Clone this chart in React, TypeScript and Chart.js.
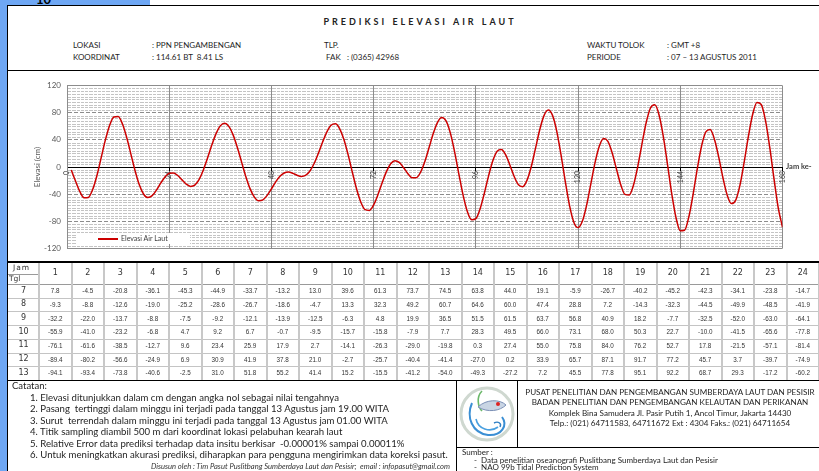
import React, { useEffect, useRef } from 'react';
import { Chart, registerables } from 'chart.js';

Chart.register(...registerables);

// ---------------- DATA ----------------
const hourLabels = ['1','2','3','4','5','6','7','8','9','10','11','12','13','14','15','16','17','18','19','20','21','22','23','24'];
const dayLabels = ['7', '8', '9', '10', '11', '12', '13'];

const day07 = [7.8, -4.5, -20.8, -36.1, -45.3, -44.9, -33.7, -13.2, 13.0, 39.6, 61.3, 73.7, 74.5, 63.8, 44.0, 19.1, -5.9, -26.7, -40.2, -45.2, -42.3, -34.1, -23.8, -14.7];
const day08 = [-9.3, -8.8, -12.6, -19.0, -25.2, -28.6, -26.7, -18.6, -4.7, 13.3, 32.3, 49.2, 60.7, 64.6, 60.0, 47.4, 28.8, 7.2, -14.3, -32.3, -44.5, -49.9, -48.5, -41.9];
const day09 = [-32.2, -22.0, -13.7, -8.8, -7.5, -9.2, -12.1, -13.9, -12.5, -6.3, 4.8, 19.9, 36.5, 51.5, 61.5, 63.7, 56.8, 40.9, 18.2, -7.7, -32.5, -52.0, -63.0, -64.1];
const day10 = [-55.9, -41.0, -23.2, -6.8, 4.7, 9.2, 6.7, -0.7, -9.5, -15.7, -15.8, -7.9, 7.7, 28.3, 49.5, 66.0, 73.1, 68.0, 50.3, 22.7, -10.0, -41.5, -65.6, -77.8];
const day11 = [-76.1, -61.6, -38.5, -12.7, 9.6, 23.4, 25.9, 17.9, 2.7, -14.1, -26.3, -29.0, -19.8, 0.3, 27.4, 55.0, 75.8, 84.0, 76.2, 52.7, 17.8, -21.5, -57.1, -81.4];
const day12 = [-89.4, -80.2, -56.6, -24.9, 6.9, 30.9, 41.9, 37.8, 21.0, -2.7, -25.7, -40.4, -41.4, -27.0, 0.2, 33.9, 65.7, 87.1, 91.7, 77.2, 45.7, 3.7, -39.7, -74.9];
const day13 = [-94.1, -93.4, -73.8, -40.6, -2.5, 31.0, 51.8, 55.2, 41.4, 15.2, -15.5, -41.2, -54.0, -49.3, -27.2, 7.2, 45.5, 77.8, 95.1, 92.2, 68.7, 29.3, -17.2, -60.2];
// value plotted at hour 168 (first hour of the following day, shown on the chart only)
const nextDayFirstValue = [-88.9];

const tableRows = [day07, day08, day09, day10, day11, day12, day13];

const yMin = -120;
const yMax = 120;
const yStep = 40;
const xMin = 0;
const xMax = 168;
const xStep = 24;

const seriesName = 'Elevasi Air Laut';

// -------------- STYLE ------------------
const FONT = 'Lato, "Open Sans", sans-serif';
const TFONT = '"DejaVu Sans", Verdana, sans-serif';
const VFONT = '"Liberation Sans", Arial, sans-serif';
const RED = '#cc0000';

const minorGrid = {
  id: 'minorGrid',
  beforeDraw(chart: any) {
    const { ctx, chartArea, scales } = chart;
    const { left, right, top, bottom } = chartArea;
    const xs = scales.x;
    const ys = scales.y;
    ctx.save();
    ctx.fillStyle = '#ffffff';
    ctx.fillRect(left, top, right - left, bottom - top);
    ctx.lineWidth = 1;
    ctx.strokeStyle = '#c4c4c4';
    for (let v = yMin + 4; v < yMax; v += 4) {
      if (v % yStep === 0) continue;
      const py = Math.round(ys.getPixelForValue(v)) + 0.5;
      ctx.beginPath();
      ctx.moveTo(left, py);
      ctx.lineTo(right, py);
      ctx.stroke();
    }
    ctx.strokeStyle = '#ffffff';
    for (let h = xMin + 1; h < xMax; h += 1) {
      if (h % xStep === 0) continue;
      const px = Math.round(xs.getPixelForValue(h)) + 0.5;
      ctx.beginPath();
      ctx.moveTo(px, top);
      ctx.lineTo(px, bottom);
      ctx.stroke();
    }
    ctx.restore();
  },
};

function TideChart() {
  const ref = useRef<HTMLCanvasElement | null>(null);
  useEffect(() => {
    if (!ref.current) return;
    const flat = tableRows.flat().concat(nextDayFirstValue);
    const points = flat.map((v, i) => ({ x: i, y: v })).slice(1);
    const chart = new Chart(ref.current, {
      type: 'line',
      data: {
        datasets: [
          {
            label: seriesName,
            data: points,
            borderColor: RED,
            backgroundColor: RED,
            borderWidth: 1.5,
            pointRadius: 0,
            tension: 0.4,
            cubicInterpolationMode: 'monotone',
            fill: false,
          },
        ],
      },
      options: {
        animation: false,
        responsive: false,
        events: [],
        layout: { padding: { top: 13.7, right: 36.5, bottom: 11.7, left: 0 } },
        plugins: { legend: { display: false }, tooltip: { enabled: false } },
        scales: {
          x: {
            type: 'linear',
            position: { y: 0 } as any,
            min: xMin,
            max: xMax,
            afterFit(scale: any) {
              scale.paddingLeft = 0;
              scale.paddingRight = 0;
            },
            ticks: {
              stepSize: xStep,
              autoSkip: false,
              minRotation: 90,
              maxRotation: 90,
              padding: 1,
              color: '#404040',
              font: { family: FONT, size: 7 },
            },
            grid: {
              color: '#8c8c8c',
              lineWidth: 1,
              drawTicks: true,
              tickLength: 3,
              tickColor: '#000',
            },
            border: { display: true, color: '#000', width: 1 },
          },
          y: {
            type: 'linear',
            position: 'left',
            min: yMin,
            max: yMax,
            afterFit(scale: any) {
              scale.width = 59;
              scale.paddingTop = 0;
              scale.paddingBottom = 0;
            },
            ticks: {
              stepSize: yStep,
              padding: 6,
              color: '#595959',
              font: { family: FONT, size: 8 },
            },
            grid: {
              drawTicks: false,
              color: (c: any) => (c.tick && c.tick.value === 0 ? '#000' : '#8c8c8c'),
              lineWidth: 1,
            },
            border: {
              display: true,
              color: '#8c8c8c',
              dash: (c: any) => {
                const v = c.tick ? c.tick.value : 0;
                return v !== 0 && Math.abs(v) !== yMax ? [4, 2] : [];
              },
            } as any,
          },
        },
      },
      plugins: [minorGrid],
    });
    return () => chart.destroy();
  }, []);
  return (
    <canvas
      ref={ref}
      width={811}
      height={188}
      style={{ position: 'absolute', left: 8, top: 72, width: 811, height: 188 }}
    />
  );
}

function T({ x, y, size = 8, children, style = {} }: any) {
  return (
    <div
      style={{
        position: 'absolute',
        left: x,
        top: y - size * 0.65,
        fontSize: size,
        lineHeight: `${Math.round(size * 1.3)}px`,
        whiteSpace: 'pre',
        fontFamily: FONT,
        color: '#1e1e1e',
        ...style,
      }}
    >
      {children}
    </div>
  );
}

function C({ cx, y, size = 8, w = 400, children, style = {} }: any) {
  return (
    <T x={cx - w / 2} y={y} size={size} style={{ width: w, textAlign: 'center', ...style }}>
      {children}
    </T>
  );
}

function Line({ x, y, w, h, c = '#000' }: any) {
  return <div style={{ position: 'absolute', left: x, top: y, width: w, height: h, background: c }} />;
}

const TAB_TOP = 262;
const HEAD_H = 22;
const ROW_H = 13.7;
const COL0_L = 8;
const COL0_W = 31;
const COL_W = 32.5;

function Table() {
  const els: any[] = [];
  const dataTop = TAB_TOP + HEAD_H;
  const bottom = dataTop + ROW_H * tableRows.length;
  els.push(<T key="jam" x={13} y={268} size={7.5} style={{ fontFamily: TFONT, letterSpacing: 1, color: '#333' }}>Jam</T>);
  els.push(<T key="tgl" x={9} y={279} size={7.5} style={{ fontFamily: TFONT, color: '#333' }}>Tgl</T>);
  els.push(<Line key="hsep" x={COL0_L} y={273.5} w={COL0_W} h={1} c="#9a9a9a" />);
  hourLabels.forEach((h, c) => {
    els.push(
      <C key={'h' + c} cx={COL0_L + COL0_W + COL_W * (c + 0.5)} y={TAB_TOP + HEAD_H / 2 + 0.5} size={8} w={COL_W} style={{ fontFamily: TFONT, color: '#333' }}>
        {h}
      </C>
    );
  });
  tableRows.forEach((row, r) => {
    const cy = dataTop + ROW_H * (r + 0.5);
    els.push(
      <C key={'d' + r} cx={COL0_L + COL0_W / 2} y={cy} size={8} w={COL0_W} style={{ fontFamily: TFONT, color: '#333' }}>
        {dayLabels[r]}
      </C>
    );
    row.forEach((v, c) => {
      els.push(
        <C key={'v' + r + '-' + c} cx={COL0_L + COL0_W + COL_W * (c + 0.5)} y={cy + 0.5} size={6.3} w={COL_W} style={{ fontFamily: VFONT, color: '#333' }}>
          {v.toFixed(1)}
        </C>
      );
    });
    if (r > 0) els.push(<Line key={'hr' + r} x={COL0_L} y={dataTop + ROW_H * r} w={819} h={1} c="#c4c4c4" />);
  });
  els.push(<Line key="hd" x={COL0_L} y={dataTop} w={819} h={1} c="#9a9a9a" />);
  for (let c = 0; c <= hourLabels.length; c++) {
    const x = COL0_L + COL0_W + COL_W * c;
    els.push(<Line key={'vl' + c} x={x - 1} y={TAB_TOP} w={2} h={bottom - TAB_TOP} c="#c8c8c8" />);
  }
  els.push(<Line key="top" x={COL0_L} y={TAB_TOP - 1} w={819} h={2} c="#000" />);
  els.push(<Line key="bot" x={COL0_L} y={bottom} w={819} h={1.5} c="#000" />);
  return <>{els}</>;
}

function Logo() {
  return (
    <svg style={{ position: 'absolute', left: 458, top: 383 }} width={58} height={62} viewBox="0 0 58 62">
      <circle cx={29} cy={31} r={26} fill="none" stroke="#cfd8d0" strokeWidth={3} />
      <path d="M14 20 C 8 34, 14 50, 30 52 C 44 53, 50 42, 44 34" fill="none" stroke="#3b8fd4" strokeWidth={2} />
      <path d="M18 36 C 20 46, 32 50, 40 44" fill="none" stroke="#4aa0e0" strokeWidth={1.6} />
      <path d="M24 8 C 18 14, 20 24, 24 28" fill="none" stroke="#6bb86a" strokeWidth={1.6} />
      <path d="M20 24 C 28 16, 42 16, 48 22 C 42 28, 30 30, 20 24 Z" fill="#c9d5e4" stroke="#7a8fb5" strokeWidth={1} />
      <circle cx={40} cy={21} r={2} fill="#d22" />
      <path d="M36 40 C 40 38, 44 40, 42 44" fill="none" stroke="#2f7fc4" strokeWidth={1.4} />
    </svg>
  );
}

export default function App() {
  return (
    <div style={{ position: 'fixed', left: 0, top: 0, width: 819, height: 471, overflow: 'hidden', background: '#fff', fontFamily: FONT }}>
      {/* window background */}
      <Line x={0} y={0} w={7} h={471} c="#6ea7f4" />
      <Line x={0} y={0} w={150} h={5} c="#6ea7f4" />
      <div style={{ position: 'absolute', left: 36, top: -9, fontSize: 13, fontWeight: 700, fontFamily: FONT, color: '#000' }}>10</div>
      {/* page frame */}
      <Line x={7} y={5} w={812} h={1} c="#000" />
      <Line x={7} y={5} w={1} h={466} c="#000" />

      <C cx={420} y={22} size={9} style={{ fontWeight: 700, letterSpacing: 3, color: '#222' }}>PREDIKSI ELEVASI AIR LAUT</C>

      <T x={73} y={45}>LOKASI</T>
      <T x={152} y={45}>: PPN PENGAMBENGAN</T>
      <T x={73} y={57}>KOORDINAT</T>
      <T x={152} y={57}>: 114.61 BT  8.41 LS</T>
      <T x={324} y={45}>TLP.</T>
      <T x={326} y={57}>FAK   : (0365) 42968</T>
      <T x={587} y={45}>WAKTU TOLOK</T>
      <T x={667} y={45}>: GMT +8</T>
      <T x={587} y={57}>PERIODE</T>
      <T x={667} y={57}>: 07 – 13 AGUSTUS 2011</T>
      <Line x={7} y={70} w={812} h={1} c="#000" />

      <TideChart />
      <div style={{ position: 'absolute', left: 37 - 30, top: 167 - 6, width: 60, height: 12, textAlign: 'center', fontSize: 8, lineHeight: '12px', color: '#595959', fontFamily: FONT, transform: 'rotate(-90deg)' }}>Elevasi (cm)</div>
      <T x={786} y={167} size={7.5} style={{ color: '#404040', fontWeight: 700 }}>Jam ke-</T>
      <div style={{ position: 'absolute', left: 77, top: 233, width: 113, height: 11, background: '#fff' }}>
        <div style={{ position: 'absolute', left: 21, top: 5, width: 20, height: 1.5, background: RED }} />
        <div style={{ position: 'absolute', left: 44, top: 0, fontSize: 7, lineHeight: '11px', color: '#404040', fontFamily: FONT, whiteSpace: 'nowrap' }}>{seriesName}</div>
      </div>

      <Table />

      <T x={12} y={386} size={9.5}>Catatan:</T>
      <T x={30} y={398} size={9.6}>1. Elevasi ditunjukkan dalam cm dengan angka nol sebagai nilai tengahnya</T>
      <T x={30} y={409.5} size={9.6}>2. Pasang  tertinggi dalam minggu ini terjadi pada tanggal 13 Agustus jam 19.00 WITA</T>
      <T x={30} y={421} size={9.6}>3. Surut  terrendah dalam minggu ini terjadi pada tanggal 13 Agustus jam 01.00 WITA</T>
      <T x={30} y={432.5} size={9.6}>4. Titik sampling diambil 500 m dari koordinat lokasi pelabuhan kearah laut</T>
      <T x={30} y={444} size={9.6}>5. Relative Error data prediksi terhadap data insitu berkisar  -0.00001% sampai 0.00011%</T>
      <T x={30} y={455.5} size={9.6}>6. Untuk meningkatkan akurasi prediksi, diharapkan para pengguna mengirimkan data koreksi pasut.</T>
      <div style={{ position: 'absolute', right: 819 - 450, top: 461, fontSize: 7.6, lineHeight: '10px', fontStyle: 'italic', color: '#333', whiteSpace: 'pre', fontFamily: FONT }}>
        Disusun oleh : Tim Pasut Puslitbang Sumberdaya Laut dan Pesisir;  email : infopasut@gmail.com
      </div>

      <Line x={456} y={380} w={1} h={91} c="#000" />
      <Line x={517} y={380} w={1} h={67} c="#000" />
      <Line x={456} y={447} w={363} h={1} c="#000" />
      <Logo />
      <C cx={670} y={392} size={8.1} w={320}>PUSAT PENELITIAN DAN PENGEMBANGAN SUMBERDAYA LAUT DAN PESISIR</C>
      <C cx={670} y={402.5} size={8.1} w={320}>BADAN PENELITIAN DAN PENGEMBANGAN KELAUTAN DAN PERIKANAN</C>
      <C cx={670} y={413} size={8.1} w={320}>Komplek Bina Samudera Jl. Pasir Putih 1, Ancol Timur, Jakarta 14430</C>
      <C cx={670} y={423.5} size={8.1} w={320}>Telp.: (021) 64711583, 64711672 Ext : 4304 Faks.: (021) 64711654</C>
      <T x={462} y={452.5} size={8}>Sumber :</T>
      <T x={474} y={460} size={8}>-  Data penelitian oseanografi Puslitbang Sumberdaya Laut dan Pesisir</T>
      <T x={474} y={467} size={8}>-  NAO 99b Tidal Prediction System</T>
    </div>
  );
}
